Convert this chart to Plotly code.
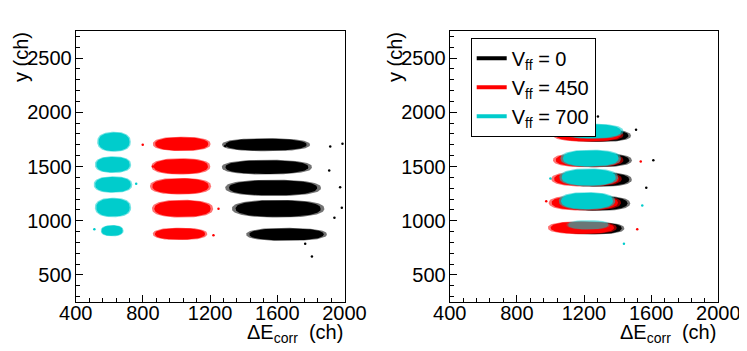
"""
Cluster maps y vs corrected dE for three Vff settings (ROOT-style two panel plot)
"""

import numpy as np
import plotly.graph_objects as go

# ---- data (cluster centre / half extent, in channels) ----
# left panel: the three settings separated in dE
cyan_x_a = [628, 622, 622, 622, 617]
cyan_y_a = [1728, 1517, 1333, 1122, 908]
cyan_w_a = [100, 108, 115, 108, 68]
cyan_h_a = [92, 77, 76, 90, 52]

red_x_a = [1031, 1026, 1024, 1036, 1021]
red_y_a = [1708, 1501, 1318, 1111, 878]
red_w_a = [172, 175, 182, 182, 162]
red_h_a = [66, 75, 77, 82, 57]

black_x_a = [1533, 1538, 1575, 1605, 1655]
black_y_a = [1701, 1494, 1303, 1111, 874]
black_w_a = [262, 268, 285, 275, 240]
black_h_a = [60, 68, 75, 82, 60]

# right panel: settings overlap after correction
black_x_b = [1285, 1285, 1285, 1275, 1250]
black_y_b = [1785, 1558, 1380, 1160, 930]
black_w_b = [195, 200, 200, 200, 190]
black_h_b = [60, 65, 68, 70, 58]

red_x_b = [1225, 1225, 1215, 1205, 1190]
red_y_b = [1790, 1560, 1385, 1165, 935]
red_w_b = [210, 210, 210, 215, 205]
red_h_b = [62, 68, 70, 72, 60]

cyan_x_b = [1250, 1240, 1228, 1218, 1225]
cyan_y_b = [1825, 1575, 1400, 1182, 962]
cyan_w_b = [185, 180, 175, 168, 130]
cyan_h_b = [70, 80, 82, 82, 45]

# a few isolated events
strays_a = {
    'black': ([1915, 1988, 1909, 1974, 1940, 1806, 1766, 1984, 1290, 1330],
              [1685, 1710, 1462, 1308, 1027, 669, 788, 1119, 1690, 1480]),
    'red': ([799, 1220, 860, 1250], [1701, 865, 1500, 1110]),
    'cyan': ([511, 760, 530], [920, 1340, 1330]),
}
strays_b = {
    'black': ([1613, 1571, 1283, 1510], [1557, 1303, 1961, 1840]),
    'red': ([1517, 1538, 975], [920, 1547, 1180]),
    'cyan': ([1438, 1547, 1000], [788, 1140, 1390]),
}

legend_labels = ['V<sub>ff</sub> = 0', 'V<sub>ff</sub> = 450', 'V<sub>ff</sub> = 700']

COLORS = {'black': (0, 0, 0), 'red': (255, 0, 0), 'cyan': (0, 204, 204)}
FONT = "Liberation Sans, Arial, Helvetica, sans-serif"
FS = 20


def blob(cx, cy, hw, hh, p=2.4, n=100):
    # superellipse outline, a bit fuller than a plain ellipse
    t = np.linspace(0, 2 * np.pi, n)
    c, s = np.cos(t), np.sin(t)
    return (cx + hw * np.sign(c) * np.abs(c) ** (2 / p),
            cy + hh * np.sign(s) * np.abs(s) ** (2 / p))


def add_clusters(fig, xs, ys, ws, hs, color, xa, ya, alpha_core=1.0):
    r, g, b = COLORS[color]
    for cx, cy, hw, hh in zip(xs, ys, ws, hs):
        # sparse fringe, then dense core
        for scale, alpha in [(1.0, 0.55 * alpha_core), (0.92, alpha_core)]:
            ex, ey = blob(cx, cy, hw * scale, hh * scale)
            fig.add_trace(go.Scatter(
                x=ex, y=ey, mode='lines', fill='toself',
                fillcolor=f'rgba({r},{g},{b},{alpha})',
                line=dict(width=0), hoverinfo='skip', showlegend=False,
                xaxis=xa, yaxis=ya))


def add_strays(fig, strays, xa, ya):
    for color, (sx, sy) in strays.items():
        r, g, b = COLORS[color]
        fig.add_trace(go.Scatter(
            x=sx, y=sy, mode='markers',
            marker=dict(size=2.5, color=f'rgb({r},{g},{b})'),
            showlegend=False, xaxis=xa, yaxis=ya))


fig = go.Figure()

add_clusters(fig, cyan_x_a, cyan_y_a, cyan_w_a, cyan_h_a, 'cyan', 'x', 'y')
add_clusters(fig, red_x_a, red_y_a, red_w_a, red_h_a, 'red', 'x', 'y')
add_clusters(fig, black_x_a, black_y_a, black_w_a, black_h_a, 'black', 'x', 'y')
add_strays(fig, strays_a, 'x', 'y')

add_clusters(fig, black_x_b, black_y_b, black_w_b, black_h_b, 'black', 'x2', 'y2')
add_clusters(fig, red_x_b, red_y_b, red_w_b, red_h_b, 'red', 'x2', 'y2')
add_clusters(fig, cyan_x_b[:4], cyan_y_b[:4], cyan_w_b[:4], cyan_h_b[:4], 'cyan', 'x2', 'y2')
# lowest row: only a sprinkle of cyan over the red
add_clusters(fig, cyan_x_b[4:], cyan_y_b[4:], cyan_w_b[4:], cyan_h_b[4:], 'cyan', 'x2', 'y2',
             alpha_core=0.45)
add_strays(fig, strays_b, 'x2', 'y2')

# legend entries
for lab, color in zip(legend_labels, ['black', 'red', 'cyan']):
    r, g, b = COLORS[color]
    fig.add_trace(go.Scatter(
        x=[None], y=[None], mode='lines', name=lab,
        line=dict(color=f'rgb({r},{g},{b})', width=4),
        xaxis='x2', yaxis='y2'))


def axis_style(rng, dtick, tick0, minor_dtick, domain, anchor, standoff):
    return dict(
        range=rng, dtick=dtick, tick0=tick0, domain=domain, anchor=anchor,
        automargin=False, ticklabelstandoff=standoff,
        ticks='inside', ticklen=7, tickcolor='black', tickwidth=1,
        showline=True, linecolor='black', linewidth=1, mirror=True,
        showgrid=False, zeroline=False,
        tickfont=dict(size=FS, color='black', family=FONT),
        minor=dict(dtick=minor_dtick, tick0=tick0, ticks='inside', ticklen=4,
                   tickcolor='black', showgrid=False),
    )


# the page body keeps its default 8px margin, so the figure is drawn 8px
# in from the window corner: size and place everything in window pixels - 8
OFF = 8
W, H = 747 - OFF, 351 - OFF


def px(x):
    return (x - OFF) / W


def py(y):
    return (H - (y - OFF)) / H


xdom_a = [px(75.7), px(344.5)]
xdom_b = [px(449.7), px(718.3)]
ydom = [py(302), py(31)]

fig.update_layout(
    width=W, height=H,
    margin=dict(l=0, r=0, t=0, b=0),
    paper_bgcolor='white', plot_bgcolor='white',
    font=dict(family=FONT, size=FS, color='black'),
    xaxis=axis_style([400, 2000], 400, 400, 80, xdom_a, 'y', -7),
    yaxis=axis_style([250, 2750], 500, 500, 100, ydom, 'x', -1),
    xaxis2=axis_style([400, 2000], 400, 400, 80, xdom_b, 'y2', -7),
    yaxis2=axis_style([250, 2750], 500, 500, 100, ydom, 'x2', -1),
    showlegend=True,
    legend=dict(
        x=px(470.7), y=py(37.7), xanchor='left', yanchor='top',
        bordercolor='black', borderwidth=1, bgcolor='white',
        font=dict(size=FS, family=FONT), tracegroupgap=0, itemwidth=30,
    ),
)

# axis titles placed ROOT-like (right / top aligned)
for xr in [344.5, 718.3]:
    fig.add_annotation(
        x=px(xr), y=py(333), xref='paper', yref='paper',
        xanchor='right', yanchor='middle', showarrow=False,
        text='ΔE<sub>corr</sub>  (ch)', font=dict(size=FS, family=FONT))
for xl in [21, 395]:
    fig.add_annotation(
        x=px(xl), y=py(57), xref='paper', yref='paper',
        xanchor='center', yanchor='middle', showarrow=False, textangle=-90,
        text='y (ch)', font=dict(size=FS, family=FONT))

fig.write_html("out.html")
